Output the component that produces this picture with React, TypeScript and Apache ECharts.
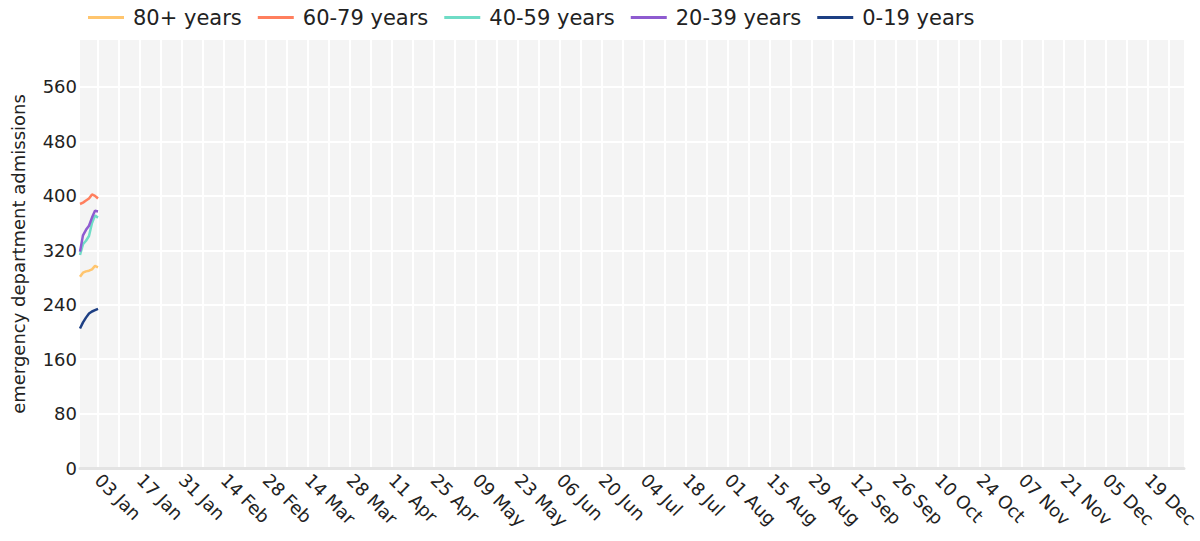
import React, { useEffect, useRef } from "react";
import * as echarts from "echarts";

const dates = ["2020-12-28", "2020-12-29", "2020-12-30", "2020-12-31", "2021-01-01", "2021-01-02", "2021-01-03"];
const seriesNames = ["80+ years", "60-79 years", "40-59 years", "20-39 years", "0-19 years"];
const seriesColors = ["#FFC56E", "#FF7F5E", "#6FDCC6", "#8E5BD0", "#1D3F83"];
const age80plus = [281, 287, 289, 290, 292, 297, 295];
const age60to79 = [388, 390, 393, 396, 402, 400, 396];
const age40to59 = [313, 329, 334, 341, 360, 371, 368];
const age20to39 = [318, 342, 350, 356, 368, 378, 377];
const age0to19 = [205, 214, 221, 227, 230, 232, 234];
const yTicks = [0, 80, 160, 240, 320, 400, 480, 560];
const xStart = "2020-12-28";
const xEnd = "2021-12-31";
const firstTick = "2021-01-03";

const DAY = 86400000;
const MONTHS = ["Jan", "Feb", "Mar", "Apr", "May", "Jun", "Jul", "Aug", "Sep", "Oct", "Nov", "Dec"];
const ts = (s: string) => {
  const [y, m, d] = s.split("-").map(Number);
  return Date.UTC(y, m - 1, d);
};

export default function App() {
  const ref = useRef<HTMLDivElement>(null);
  useEffect(() => {
    if (!ref.current) return;
    const chart = echarts.init(ref.current, undefined, { renderer: "svg" });
    const minX = ts(xStart);
    const maxX = ts(xEnd);
    const weekly: number[] = [];
    for (let t = ts(firstTick); t <= maxX; t += 7 * DAY) weekly.push(t);
    const biweekly = weekly.filter((_, i) => i % 2 === 0);
    const all = [age80plus, age60to79, age40to59, age20to39, age0to19];
    const font = "DejaVu Sans";
    const textColor = "#222";
    chart.setOption({
      animation: false,
      backgroundColor: "#ffffff",
      legend: {
        top: 7,
        left: 88,
        padding: 0,
        icon: "rect",
        itemWidth: 36,
        itemHeight: 3,
        itemGap: 16,
        textStyle: { fontFamily: font, fontSize: 21, color: textColor, padding: [0, 0, 0, 4] },
        data: seriesNames,
      },
      grid: {
        left: 80,
        right: 16,
        top: 40,
        bottom: 73,
        show: true,
        backgroundColor: "#f4f4f4",
        borderWidth: 0,
        outerBoundsMode: "none",
        containLabel: false,
      },
      xAxis: {
        type: "value",
        min: minX,
        max: maxX,
        axisLine: { show: true, onZero: false, lineStyle: { color: "#e3e3e3", width: 3 } },
        axisTick: { show: false, customValues: weekly },
        splitLine: { show: true, lineStyle: { color: "#ffffff", width: 2 } },
        axisLabel: {
          customValues: biweekly,
          rotate: -45,
          margin: 9,
          fontFamily: font,
          fontSize: 18,
          color: textColor,
          formatter: (v: number) => {
            const d = new Date(v);
            const dd = String(d.getUTCDate()).padStart(2, "0");
            return `${dd} ${MONTHS[d.getUTCMonth()]}`;
          },
        },
      },
      yAxis: {
        type: "value",
        min: 0,
        max: 629,
        name: "emergency department admissions",
        nameLocation: "middle",
        nameGap: 53,
        nameTextStyle: { fontFamily: font, fontSize: 18, color: textColor },
        axisLine: { show: false },
        axisTick: { show: false, customValues: yTicks },
        splitLine: { show: true, lineStyle: { color: "#ffffff", width: 2 } },
        axisLabel: {
          customValues: yTicks,
          margin: 3,
          fontFamily: font,
          fontSize: 18,
          color: textColor,
        },
      },
      series: seriesNames.map((name, i) => ({
        name,
        type: "line",
        symbol: "none",
        color: seriesColors[i],
        lineStyle: { width: 2.5, color: seriesColors[i] },
        data: dates.map((d, j) => [ts(d), all[i][j]]),
      })),
    });
    return () => chart.dispose();
  }, []);
  return (
    <div
      ref={ref}
      style={{ position: "fixed", left: 0, top: 0, width: 1200, height: 541 }}
    />
  );
}
